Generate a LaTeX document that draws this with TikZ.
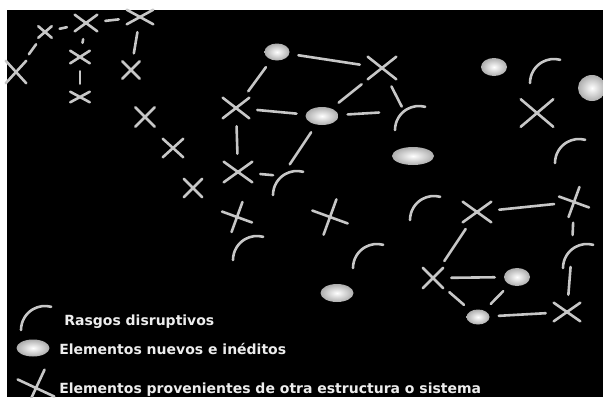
\documentclass[tikz,border=0pt]{standalone}
\usepackage{fontspec}
\setmainfont{DejaVu Sans}
\usetikzlibrary{shapes,positioning}

\begin{document}
\begin{tikzpicture}[x=1pt,y=-1pt,line width=2.6pt]
            \tikzstyle{trazo}=[draw=white!78!black,line cap=round]
            \tikzstyle{aspa}=[trazo,cross out,inner sep=0pt]
            \tikzstyle{nuevo}=[ellipse,inner sep=0pt,shading=radial,inner color=white,outer color=white!68!black]
            \tikzstyle{enlace}=[trazo,shorten <=8pt,shorten >=8pt]
            \tikzstyle{leyenda}=[text=white!93!black,font=\bfseries\fontsize{14}{16}\selectfont,inner sep=0pt,anchor=west]

            % fondo
            \fill[white] (0,0) rectangle (603,397);
            \fill[black] (7,10) rectangle (603,397);
            \useasboundingbox (0,0) rectangle (603,397);

            % elementos de otra estructura
            \node[aspa,minimum width=18,minimum height=20] (c1) at (16,72) {};
            \node[aspa,minimum width=11,minimum height=9] (c2) at (45,32) {};
            \node[aspa,minimum width=20,minimum height=14] (c3) at (86,23) {};
            \node[aspa,minimum width=24,minimum height=12] (c4) at (140,17) {};
            \node[aspa,minimum width=17,minimum height=10] (c5) at (80,57) {};
            \node[aspa,minimum width=17,minimum height=8] (c6) at (80,97) {};
            \node[aspa,minimum width=15,minimum height=15] (c7) at (131,70) {};
            \node[aspa,minimum width=17,minimum height=17] (c8) at (145,117) {};
            \node[aspa,minimum width=18,minimum height=16] (c9) at (173,148) {};
            \node[aspa,minimum width=16,minimum height=16] (c10) at (193,188) {};
            \node[aspa,minimum width=24,minimum height=18] (c11) at (236,108) {};
            \node[aspa,minimum width=26,minimum height=18] (c12) at (238,172) {};
            \node[aspa,minimum width=20,minimum height=20,rotate=25] (c13) at (237,217) {};
            \node[aspa,minimum width=24,minimum height=24,rotate=25] (c14) at (330,217) {};
            \node[aspa,minimum width=26,minimum height=20] (c15) at (382,68) {};
            \node[aspa,minimum width=30,minimum height=25] (c16) at (537,113) {};
            \node[aspa,minimum width=26,minimum height=18] (c17) at (477,212) {};
            \node[aspa,minimum width=20,minimum height=20,rotate=25] (c18) at (574,202) {};
            \node[aspa,minimum width=18,minimum height=18] (c19) at (433,278) {};
            \node[aspa,minimum width=24,minimum height=16] (c20) at (567,312) {};

            % elementos nuevos
            \node[nuevo,minimum width=25,minimum height=17] (e1) at (277,52) {};
            \node[nuevo,minimum width=33,minimum height=18] (e2) at (322,116) {};
            \node[nuevo,minimum width=42,minimum height=18] (e3) at (413,156) {};
            \node[nuevo,minimum width=26,minimum height=18] (e4) at (494,67) {};
            \node[nuevo,minimum width=28,minimum height=26] (e5) at (592,88) {};
            \node[nuevo,minimum width=33,minimum height=18] (e6) at (337,293) {};
            \node[nuevo,minimum width=26,minimum height=18] (e7) at (517,277) {};
            \node[nuevo,minimum width=23,minimum height=15] (e8) at (478,317) {};

            % rasgos disruptivos
            \foreach \n/\x/\y in {r1/395/130,r2/273/195,r3/233/260,r4/353/268,
                                  r5/530/83,r6/555/163,r7/410/220,r8/563/268}{
                \draw[trazo] (\x,\y) arc[start angle=180,end angle=285,radius=24];
                \path (\x,\y) ++(9,-19) coordinate (\n);
            }

            % enlaces
            \draw[enlace] (c1) -- (c2);
            \draw[enlace] (c2) -- (c3);
            \draw[enlace] (c3) -- (c4);
            \draw[enlace] (c4) -- (c7);
            \draw[enlace] (c3) -- (c5);
            \draw[enlace] (c5) -- (c6);
            \draw[enlace] (e1) -- (c15);
            \draw[enlace] (e1) -- (c11);
            \draw[enlace] (c11) -- (e2);
            \draw[enlace] (e2) -- (c15);
            \draw[enlace,shorten >=25pt] (e2) -- (r1);
            \draw[enlace,shorten >=5pt] (c15) -- (r1);
            \draw[enlace] (c11) -- (c12);
            \draw[enlace,shorten >=9pt] (c12) -- (r2);
            \draw[enlace,shorten >=14pt] (e2) -- (r2);
            \draw[enlace] (c17) -- (c18);
            \draw[enlace,shorten >=14pt] (c18) -- (r8);
            \draw[enlace,shorten <=18pt] (r8) -- (c20);
            \draw[enlace] (c17) -- (c19);
            \draw[enlace] (c19) -- (e7);
            \draw[enlace] (e7) -- (e8);
            \draw[enlace] (c19) -- (e8);
            \draw[enlace] (e8) -- (c20);

            % leyenda
            \draw[trazo] (21,330) arc[start angle=180,end angle=285,radius=24];
            \node[leyenda] (t1) at (63,322) {Rasgos disruptivos};
            \node[nuevo,minimum width=33,minimum height=17] (l2) at (33,348) {};
            \node[leyenda] (t2) at (58,349) {Elementos nuevos e inéditos};
            \node[aspa,minimum width=26,minimum height=26,rotate=20] (l3) at (36,388) {};
            \node[leyenda] (t3) at (58,390) {Elementos provenientes de otra estructura o sistema};
\end{tikzpicture}
\end{document}
